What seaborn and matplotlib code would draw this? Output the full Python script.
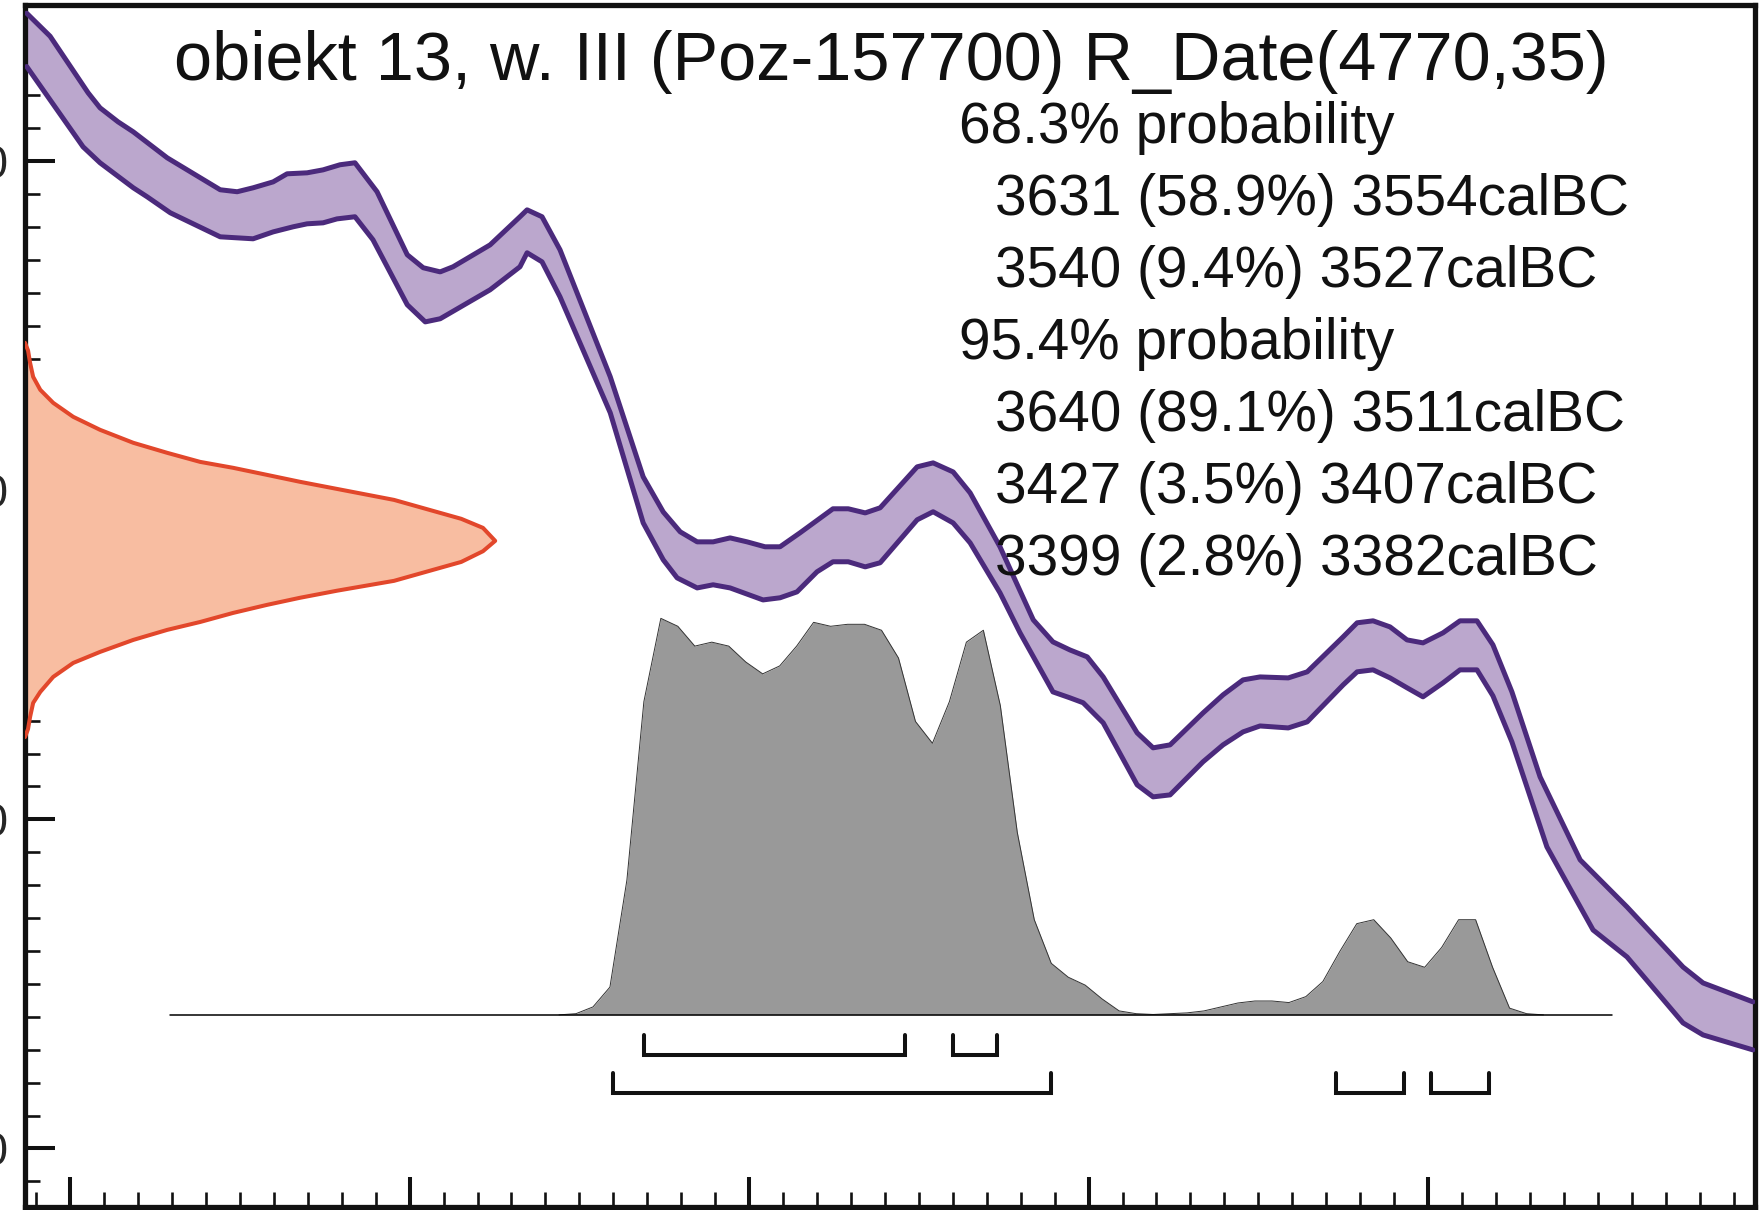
import numpy as np
import matplotlib
matplotlib.use("Agg")
import matplotlib.pyplot as plt
from matplotlib.ticker import MultipleLocator
import seaborn as sns

# calibration curve band edges, (cal BC, radiocarbon BP)
curve_upper = [(3812.8, 5090.0), (3805.9, 5076.0), (3794.7, 5041.6), (3791.2, 5032.5), (3785.9, 5024.0),
               (3781.4, 5017.9), (3771.4, 5002.1), (3755.8, 4982.7), (3750.8, 4981.5), (3746.1, 4983.9),
               (3740.2, 4987.5), (3736.1, 4992.4), (3730.2, 4993.0), (3725.5, 4994.8), (3720.5, 4997.9),
               (3716.1, 4999.1), (3709.6, 4981.5), (3700.7, 4943.2), (3696.0, 4935.3), (3691.0, 4932.8),
               (3687.2, 4935.9), (3676.3, 4949.2), (3667.5, 4966.3), (3665.4, 4970.5), (3661.0, 4966.3),
               (3655.7, 4946.2), (3640.9, 4869.0), (3631.2, 4808.2), (3625.3, 4786.9), (3620.3, 4774.8),
               (3615.3, 4768.7), (3610.6, 4768.7), (3605.6, 4771.1), (3600.6, 4768.7), (3595.3, 4765.7),
               (3590.9, 4765.7), (3585.0, 4774.2), (3575.3, 4788.8), (3570.8, 4788.8), (3565.8, 4786.3),
               (3561.4, 4789.4), (3550.5, 4814.3), (3545.8, 4816.7), (3539.9, 4811.2), (3534.9, 4798.5),
               (3526.1, 4765.7), (3516.3, 4721.3), (3510.5, 4707.9), (3505.5, 4703.0), (3500.4, 4698.8),
               (3495.7, 4686.6), (3485.7, 4652.6), (3481.0, 4643.5), (3476.0, 4645.3), (3466.3, 4664.7),
               (3460.4, 4675.7), (3454.5, 4684.8), (3449.5, 4686.6), (3441.2, 4686.0), (3435.6, 4689.7),
               (3425.0, 4711.0), (3420.9, 4719.5), (3416.2, 4720.7), (3411.2, 4717.0), (3406.2, 4709.1),
               (3401.5, 4707.3), (3395.6, 4713.4), (3390.6, 4720.7), (3385.6, 4720.7), (3380.9, 4706.1),
               (3375.3, 4677.5), (3367.0, 4625.8), (3355.2, 4575.4), (3341.4, 4546.8), (3324.9, 4510.3),
               (3319.0, 4500.6), (3304.3, 4489.1)]
curve_lower = [(3812.8, 5057.6), (3796.2, 5008.8), (3791.2, 4999.1), (3781.4, 4983.9), (3777.3, 4978.4),
               (3770.5, 4968.7), (3755.8, 4954.1), (3746.1, 4952.9), (3740.2, 4957.1), (3734.3, 4960.2),
               (3730.2, 4962.0), (3725.5, 4962.6), (3721.4, 4965.0), (3716.1, 4966.3), (3710.8, 4952.3),
               (3700.7, 4912.8), (3695.4, 4902.4), (3691.0, 4904.3), (3676.3, 4921.9), (3667.5, 4935.9),
               (3665.4, 4944.4), (3661.0, 4938.9), (3655.7, 4917.6), (3640.9, 4847.1), (3631.2, 4780.2),
               (3625.3, 4757.8), (3621.2, 4746.8), (3615.3, 4740.7), (3610.6, 4742.6), (3605.6, 4740.7),
               (3595.9, 4733.4), (3590.9, 4734.7), (3585.9, 4738.3), (3580.0, 4750.5), (3575.3, 4756.6),
               (3570.8, 4756.6), (3565.8, 4753.5), (3561.4, 4756.0), (3550.5, 4782.1), (3545.8, 4787.0),
               (3539.9, 4780.2), (3534.9, 4768.1), (3526.1, 4737.7), (3520.2, 4713.4), (3510.5, 4677.5),
               (3505.5, 4673.9), (3501.6, 4670.9), (3495.7, 4658.7), (3485.7, 4621.0), (3481.0, 4613.7),
               (3476.0, 4614.9), (3466.3, 4635.0), (3460.4, 4645.3), (3454.5, 4653.2), (3449.5, 4656.8),
               (3441.2, 4655.6), (3435.6, 4659.3), (3425.0, 4681.8), (3420.9, 4689.7), (3416.2, 4690.9),
               (3411.2, 4686.0), (3406.2, 4680.0), (3401.5, 4674.5), (3395.6, 4683.0), (3390.6, 4690.9),
               (3385.6, 4690.9), (3380.9, 4675.1), (3375.3, 4647.1), (3365.0, 4583.3), (3351.4, 4532.8),
               (3341.4, 4516.4), (3324.9, 4476.3), (3319.0, 4469.0), (3304.3, 4459.9)]

# R_Date(4770,35) likelihood outline drawn on the BP axis, (cal BC, BP)
rdate_outline = [(3813.3, 4889.7), (3812.4, 4885.0), (3811.8, 4877.5), (3810.9, 4869.0), (3808.8, 4861.1),
                 (3805.0, 4853.2), (3799.1, 4844.7), (3791.2, 4836.8), (3781.4, 4828.9), (3771.4, 4822.8),
                 (3761.7, 4817.3), (3752.0, 4813.7), (3742.0, 4809.4), (3732.3, 4805.2), (3704.6, 4794.2),
                 (3684.8, 4782.7), (3678.4, 4777.2), (3674.8, 4769.3), (3678.4, 4763.0), (3684.8, 4756.5),
                 (3704.6, 4745.0), (3721.4, 4739.0), (3732.3, 4734.7), (3742.0, 4730.4), (3752.0, 4725.5),
                 (3761.7, 4720.0), (3771.4, 4715.2), (3781.4, 4709.1), (3791.2, 4701.8), (3799.1, 4695.1),
                 (3805.0, 4686.6), (3808.8, 4677.5), (3810.9, 4670.8), (3811.8, 4662.3), (3812.4, 4655.0),
                 (3813.3, 4650.0)]

# calibrated probability (relative, % of peak)
prob_bc = [3656, 3651, 3646, 3641, 3636, 3631, 3626, 3621, 3616, 3611, 3606, 3601, 3596, 3591, 3586,
           3581, 3576, 3571, 3566, 3561, 3556, 3551, 3546, 3541, 3536, 3531, 3526, 3521, 3516, 3511,
           3506, 3501, 3496, 3491, 3486, 3481, 3476, 3471, 3466, 3461, 3456, 3451, 3446, 3441, 3436,
           3431, 3426, 3421, 3416, 3411, 3406, 3401, 3396, 3391, 3386, 3381, 3376, 3371, 3366]
prob_rel = [0, 0.3, 2, 7, 34, 79, 100, 98, 93, 94, 93, 89, 86, 88, 93,
            99, 98, 98.5, 98.5, 97, 90, 74, 68.5, 79, 94, 97, 78, 46, 24, 13,
            9.5, 7.5, 4, 1, 0.3, 0.1, 0.3, 0.5, 1, 2, 3, 3.5, 3.5, 3.1, 4.6,
            8.4, 16, 23, 24, 19.4, 13.4, 12, 17, 24, 24, 12, 1.7, 0.3, 0]

ranges_68 = [(3631, 3554, 58.9), (3540, 3527, 9.4)]
ranges_95 = [(3640, 3511, 89.1), (3427, 3407, 3.5), (3399, 3382, 2.8)]

title = "obiekt 13, w. III (Poz-157700) R_Date(4770,35)"

sns.set_style("ticks")
plt.rcParams["font.family"] = ["Liberation Sans", "DejaVu Sans"]

W, H = 1763, 1210
fig = plt.figure(figsize=(W / 100, H / 100), dpi=100)
ax = fig.add_axes([25 / W, 1 - 1206.7 / H, (1755 - 25) / W, (1206.7 - 5) / H])

purple_fill = "#bba7cd"
purple_edge = "#4b2a7c"
red_edge = "#e2472b"
red_fill = "#f8bda1"

# calibration band
ubc, ubp = zip(*curve_upper)
lbc, lbp = zip(*curve_lower)
ax.fill(list(ubc) + list(lbc[::-1]), list(ubp) + list(lbp[::-1]), color=purple_fill, lw=0, zorder=2)
sns.lineplot(x=list(ubc), y=list(ubp), sort=False, estimator=None, color=purple_edge, lw=3.6, ax=ax, zorder=3)
sns.lineplot(x=list(lbc), y=list(lbp), sort=False, estimator=None, color=purple_edge, lw=3.6, ax=ax, zorder=3)

# radiocarbon date on y axis
rbc, rbp = zip(*rdate_outline)
ax.fill(rbc, rbp, color=red_fill, lw=0, zorder=2)
sns.lineplot(x=list(rbc), y=list(rbp), sort=False, estimator=None, color=red_edge, lw=2.9, ax=ax, zorder=3)

# calibrated distribution
base = 4481.2
scale = 241.0 / 100
top = base + np.array(prob_rel) * scale
ax.fill_between(prob_bc, base, top, color="#999999", lw=0, zorder=2)
sns.lineplot(x=prob_bc, y=top, sort=False, estimator=None, color="#333333", lw=0.7, ax=ax, zorder=3)
ax.plot([3770.5, 3345.8], [base, base], color="black", lw=1.1, zorder=3)

# range brackets
rows = [(ranges_68, 4469.0, 4457.0), (ranges_95, 4446.0, 4434.0)]
for rngs, y_top, y_bot in rows:
    for a, b, p in rngs:
        ax.plot([a, a, b, b], [y_top, y_bot, y_bot, y_top], color="#111111", lw=2.9,
                solid_joinstyle="miter", zorder=3)

ax.set_xlim(3813.3, 3303.7)
ax.set_ylim(4364.6, 5095.0)
ax.xaxis.set_major_locator(MultipleLocator(100))
ax.xaxis.set_minor_locator(MultipleLocator(10))
ax.yaxis.set_major_locator(MultipleLocator(200))
ax.yaxis.set_minor_locator(MultipleLocator(20))
ax.tick_params(which="major", direction="in", length=21.6, width=2.9, labelsize=33, pad=12.2,
               color="#111111")
ax.tick_params(which="minor", direction="in", length=10.8, width=1.9, color="#111111")
ax.tick_params(top=False, right=False, labelbottom=False)
for s in ax.spines.values():
    s.set_linewidth(3.8)
    s.set_color("#111111")
ax.set_xlabel("")
ax.set_ylabel("")

# texts
fig.text(891 / W, 1 - 80 / H, title, ha="center", va="baseline", fontsize=49.3, color="#111111")
lines = ["68.3% probability"]
for a, b, p in ranges_68:
    lines.append(f"{a} ({p}%) {b}calBC")
lines.append("95.4% probability")
for a, b, p in ranges_95:
    lines.append(f"{a} ({p}%) {b}calBC")
for i, t in enumerate(lines):
    x0 = 959 if "probability" in t else 995
    fig.text(x0 / W, 1 - (143 + 72 * i) / H, t, ha="left", va="baseline", fontsize=40.9,
             color="#111111", zorder=5)

fig.savefig("out.png", dpi=100)
